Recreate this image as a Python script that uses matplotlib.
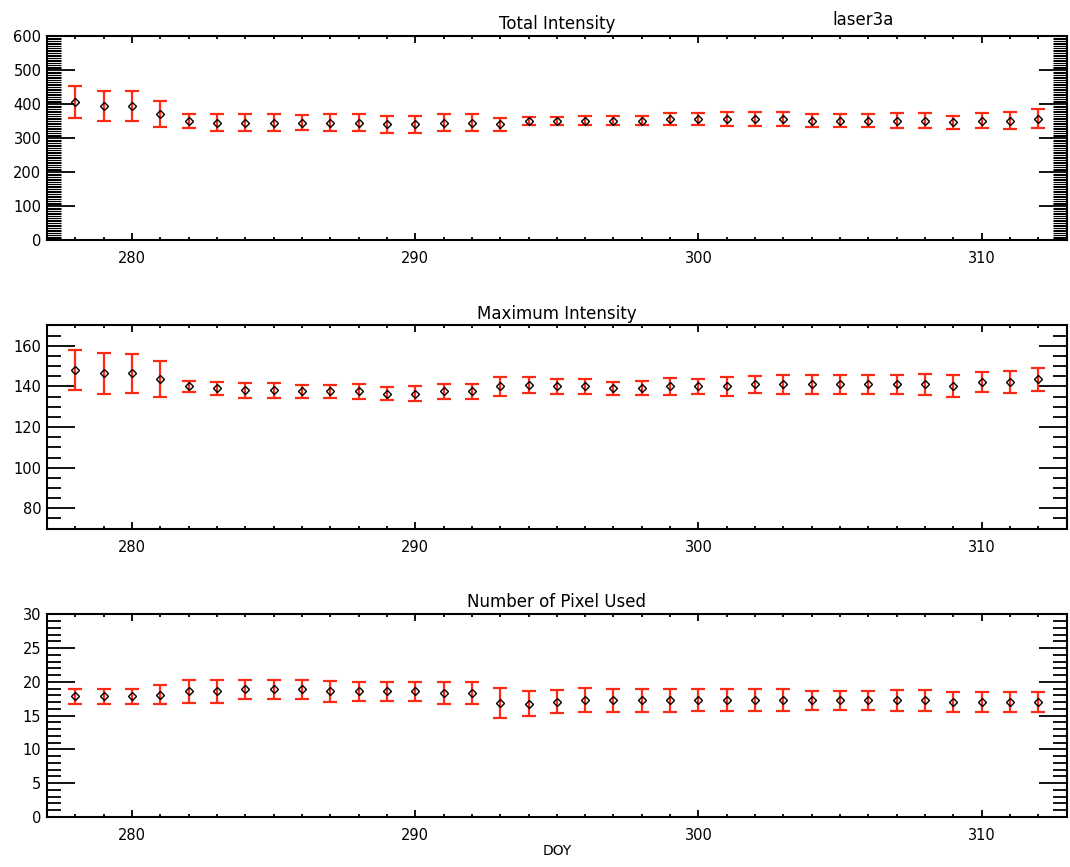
import numpy as np
import matplotlib
matplotlib.use("Agg")
from matplotlib import pyplot as plt
from matplotlib.ticker import MultipleLocator

doy = list(range(278, 313))

total_int = [406, 394, 394, 371, 350, 345, 345, 345, 345, 345, 345, 340, 340, 345, 345, 340, 350,
             350, 351, 351, 351, 356, 356, 356, 356, 356, 351, 351, 351, 351, 351, 346, 351, 351, 356]
total_err = [47, 44, 44, 38, 21, 25, 25, 25, 22, 25, 25, 25, 25, 25, 25, 20, 11,
             11, 14, 14, 14, 17, 17, 20, 20, 20, 20, 20, 20, 22, 22, 19, 22, 25, 28]

max_int = [148.1, 146.4, 146.4, 143.6, 140.0, 139.0, 138.1, 138.1, 137.5, 137.5, 137.5, 136.4,
           136.4, 137.5, 137.5, 140.0, 140.8, 140.0, 140.0, 139.2, 139.2, 140.0, 140.0, 140.0,
           141.0, 141.0, 141.0, 141.0, 141.0, 141.0, 141.0, 140.2, 142.2, 142.2, 143.6]
max_err = [10.0, 10.0, 9.7, 8.8, 2.8, 3.3, 3.7, 3.7, 3.3, 3.3, 3.5, 3.1, 3.6, 3.5, 3.5, 4.7, 3.8,
           3.6, 3.6, 3.2, 3.6, 4.0, 3.6, 4.5, 4.0, 4.7, 4.7, 4.7, 4.7, 4.7, 5.0, 5.3, 5.0, 5.5, 5.7]

npix = [17.9, 17.9, 17.9, 18.1, 18.6, 18.6, 18.9, 18.9, 18.9, 18.6, 18.6, 18.6, 18.6, 18.4,
        18.4, 16.9, 16.8, 17.1, 17.3, 17.3, 17.3, 17.3, 17.3, 17.3, 17.3, 17.3, 17.3, 17.3,
        17.3, 17.3, 17.3, 17.0, 17.0, 17.0, 17.0]
npix_err = [1.1, 1.1, 1.1, 1.4, 1.7, 1.7, 1.4, 1.4, 1.4, 1.5, 1.4, 1.4, 1.4, 1.65, 1.65, 2.2,
            1.85, 1.7, 1.8, 1.7, 1.7, 1.7, 1.6, 1.6, 1.6, 1.6, 1.4, 1.4, 1.4, 1.55, 1.55, 1.45,
            1.45, 1.45, 1.45]

panels = [
    # title, values, errors, ylim, yticks, minor, position
    ("Total Intensity", total_int, total_err, (0, 600), range(0, 601, 100), 5,
     [0.0439, 0.7232, 0.953, 0.2353]),
    ("Maximum Intensity", max_int, max_err, (70, 170), range(80, 161, 20), 5,
     [0.0439, 0.3903, 0.953, 0.2343]),
    ("Number of Pixel Used", npix, npix_err, (0, 30), range(0, 31, 5), 1,
     [0.0439, 0.0577, 0.953, 0.2336]),
]

RED = "#ff2a14"

fig = plt.figure(figsize=(10.7, 8.67), dpi=100)
plt.rcParams["font.family"] = "DejaVu Sans"

for title, vals, errs, ylim, yticks, minor, pos in panels:
    ax = fig.add_axes(pos)
    ax.errorbar(doy, vals, yerr=errs, fmt="none", ecolor=RED, elinewidth=1.6,
                capsize=5, capthick=1.6, zorder=2)
    ax.plot(doy, vals, linestyle="none", marker="D", markersize=4.5,
            markerfacecolor="none", markeredgecolor="black", markeredgewidth=1.0, zorder=3)
    ax.set_xlim(277, 313)
    ax.set_ylim(*ylim)
    ax.xaxis.set_major_locator(MultipleLocator(10))
    ax.xaxis.set_minor_locator(MultipleLocator(1))
    ax.set_yticks(list(yticks))
    ax.yaxis.set_minor_locator(MultipleLocator(minor))
    ax.tick_params(which="both", direction="in", top=True, right=True,
                   labelsize=10.5, colors="black")
    ax.tick_params(which="major", width=1.3)
    ax.tick_params(axis="x", which="major", length=5, pad=8)
    ax.tick_params(axis="x", which="minor", length=2.5, width=1.3)
    ax.tick_params(axis="y", which="major", length=20, pad=4)
    ax.tick_params(axis="y", which="minor", length=10, width=0.8 if minor == 5 and ylim[1] == 600 else 1.3)
    for s in ax.spines.values():
        s.set_linewidth(1.5)
    ax.set_title(title, fontsize=12, pad=5)
    if title == "Total Intensity":
        ax.annotate("laser3a", xy=(0.8, 1.0), xycoords="axes fraction",
                    xytext=(0, 5), textcoords="offset points",
                    fontsize=12, ha="center", va="bottom")
    if title == "Number of Pixel Used":
        ax.set_xlabel("DOY", fontsize=10, labelpad=1)

fig.savefig("out.png", dpi=100)
